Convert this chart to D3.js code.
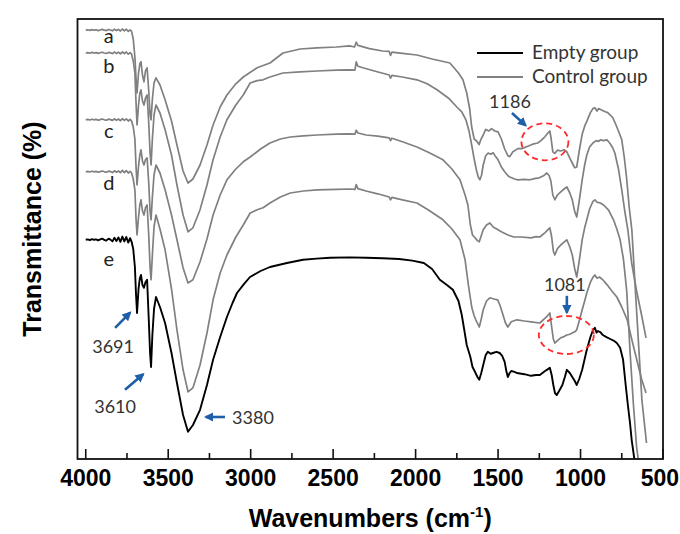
<!DOCTYPE html>
<html><head><meta charset="utf-8">
<script src="https://cdn.jsdelivr.net/npm/d3@7"></script>
<style>
html,body{margin:0;padding:0;background:#fff;}
svg{display:block;}
</style></head><body>
<svg id="chart" width="680" height="534"></svg>
<script>
// FTIR spectra: [wavenumber (cm-1), transmittance (offset, arbitrary %)]
const curveA = [[4000,107.2],[3988,107.3],[3975,107.15],[3962,107.35],[3950,107.2],[3937,107.3],[3925,107.1],[3912,107.25],[3900,107.4],[3887,107.2],[3875,107.1],[3862,107.35],[3850,107.25],[3838,107.05],[3826,107.45],[3814,107.1],[3802,107.4],[3790,107.0],[3778,107.5],[3766,107.05],[3754,107.45],[3742,106.9],[3731,107.3],[3722,106.9],[3712,105.0],[3702,100.5],[3695,95.0],[3689,91.5],[3680,96.5],[3672,98.8],[3665,99.3],[3656,96.0],[3647,94.3],[3638,97.0],[3628,97.8],[3618,92.0],[3610,86.0],[3604,84.8],[3596,90.0],[3586,94.0],[3574,95.3],[3550,93.5],[3519,89.8],[3480,84.5],[3447,78.5],[3410,72.0],[3380,69.0],[3350,70.0],[3307,73.5],[3265,78.5],[3228,83.5],[3185,88.0],[3144,91.0],[3090,93.8],[3045,95.5],[2961,97.8],[2883,99.0],[2804,101.5],[2700,102.5],[2598,102.8],[2480,103.0],[2400,103.3],[2370,103.0],[2360,104.2],[2350,103.4],[2280,102.6],[2200,102.0],[2160,101.9],[2152,100.9],[2144,101.7],[2080,101.4],[1992,101.0],[1900,100.0],[1792,99.0],[1740,96.5],[1713,94.8],[1690,91.5],[1672,87.5],[1660,83.0],[1645,80.0],[1630,79.5],[1615,78.6],[1605,79.8],[1590,81.0],[1575,82.4],[1555,82.0],[1540,82.6],[1520,82.0],[1500,81.8],[1480,80.0],[1460,77.5],[1440,75.8],[1429,75.6],[1410,76.8],[1380,77.6],[1356,77.6],[1320,78.2],[1290,78.7],[1260,79.0],[1240,79.6],[1215,80.6],[1200,81.4],[1186,82.0],[1178,80.0],[1168,76.8],[1156,76.4],[1140,77.2],[1120,77.0],[1100,77.3],[1083,76.8],[1065,75.2],[1050,74.0],[1035,72.8],[1023,73.0],[1008,77.0],[990,81.2],[975,83.2],[962,84.4],[940,86.6],[925,87.6],[913,87.8],[900,87.0],[890,87.6],[870,87.2],[850,86.8],[835,86.6],[815,85.8],[804,85.3],[790,84.0],[770,82.0],[750,79.8],[735,75.5],[720,70.0],[705,63.0],[689,57.3],[670,44.0],[650,30.0],[628,14.8],[600,4.0]];
const curveB = [[4000,101.5],[3988,101.6],[3975,101.45],[3962,101.65],[3950,101.5],[3937,101.6],[3925,101.4],[3912,101.55],[3900,101.7],[3887,101.5],[3875,101.4],[3862,101.65],[3850,101.55],[3838,101.35],[3826,101.75],[3814,101.4],[3802,101.7],[3790,101.3],[3778,101.8],[3766,101.35],[3754,101.75],[3742,101.2],[3731,101.6],[3722,101.2],[3712,99.5],[3702,96.5],[3695,89.0],[3689,83.5],[3680,88.5],[3672,91.5],[3665,92.3],[3656,89.5],[3647,88.5],[3638,90.2],[3628,91.0],[3618,84.0],[3610,76.5],[3604,73.5],[3596,80.0],[3586,86.0],[3574,88.5],[3550,86.5],[3519,82.3],[3480,76.0],[3447,68.5],[3410,61.0],[3380,56.8],[3350,57.8],[3307,62.3],[3265,68.5],[3228,74.8],[3185,80.5],[3144,84.8],[3090,88.5],[3045,91.0],[3003,94.0],[2961,94.6],[2925,94.8],[2883,95.5],[2804,96.5],[2700,96.8],[2598,97.0],[2480,97.2],[2400,97.3],[2368,97.2],[2360,99.3],[2350,98.2],[2320,97.8],[2250,97.0],[2160,96.0],[2152,95.2],[2144,95.9],[2080,95.5],[1992,94.8],[1930,93.8],[1870,92.3],[1800,90.2],[1750,88.0],[1720,86.8],[1695,84.8],[1675,81.8],[1660,78.5],[1645,75.0],[1630,72.0],[1620,70.5],[1610,69.8],[1600,71.0],[1590,73.5],[1575,75.8],[1560,76.5],[1545,76.2],[1530,76.6],[1515,75.6],[1500,74.8],[1480,73.0],[1460,71.8],[1440,70.8],[1429,70.5],[1400,70.0],[1380,69.8],[1340,69.9],[1307,69.8],[1280,70.1],[1250,70.3],[1225,70.8],[1204,71.5],[1190,70.8],[1180,69.5],[1168,66.0],[1156,64.8],[1140,66.0],[1120,66.8],[1100,67.5],[1083,68.0],[1065,66.5],[1050,64.8],[1035,61.8],[1023,60.5],[1008,64.5],[990,69.8],[975,73.5],[962,76.0],[945,78.0],[925,79.0],[905,79.6],[890,79.4],[880,79.8],[860,79.6],[840,79.8],[820,78.8],[805,77.8],[792,76.5],[770,72.5],[750,67.3],[732,62.0],[713,57.3],[690,49.0],[660,42.0],[630,36.0],[603,30.3]];
const curveC = [[4000,84.8],[3988,84.9],[3975,84.75],[3962,84.95],[3950,84.8],[3937,84.9],[3925,84.7],[3912,84.85],[3900,85.0],[3887,84.8],[3875,84.7],[3862,84.95],[3850,84.85],[3838,84.65],[3826,85.05],[3814,84.7],[3802,85.0],[3790,84.6],[3778,85.1],[3766,84.65],[3754,85.05],[3742,84.5],[3731,84.9],[3722,84.5],[3712,83.0],[3702,80.0],[3695,73.0],[3689,68.5],[3680,73.2],[3672,76.0],[3665,77.3],[3656,74.5],[3647,73.5],[3638,74.8],[3628,75.3],[3618,69.0],[3610,62.0],[3604,59.8],[3596,65.5],[3586,71.0],[3574,73.5],[3550,71.5],[3519,67.3],[3480,61.0],[3447,54.8],[3410,47.8],[3380,44.0],[3350,44.8],[3307,49.3],[3265,55.0],[3228,61.0],[3185,66.0],[3144,69.8],[3090,72.5],[3045,74.3],[3003,75.5],[2940,77.5],[2883,79.0],[2820,80.0],[2760,80.5],[2680,80.8],[2598,81.0],[2480,81.2],[2400,81.3],[2368,81.2],[2360,82.2],[2350,81.5],[2300,81.0],[2230,80.7],[2160,80.3],[2152,79.6],[2144,80.2],[2080,79.3],[1992,78.0],[1920,76.6],[1834,74.8],[1780,72.5],[1731,69.8],[1700,66.0],[1683,63.5],[1668,58.5],[1655,56.0],[1640,55.3],[1625,54.6],[1614,54.3],[1602,55.8],[1590,57.3],[1570,58.5],[1550,59.0],[1530,58.0],[1500,57.3],[1480,56.8],[1465,56.5],[1440,56.0],[1404,55.5],[1360,55.5],[1300,55.3],[1270,55.6],[1247,55.5],[1215,56.6],[1200,57.2],[1186,57.8],[1175,55.5],[1165,52.0],[1156,51.0],[1140,52.6],[1120,53.5],[1100,54.2],[1083,54.8],[1065,53.0],[1050,51.0],[1035,47.5],[1023,45.5],[1008,49.5],[990,54.8],[975,57.8],[962,59.8],[945,62.5],[925,64.4],[913,64.8],[900,64.2],[880,64.0],[860,63.5],[830,62.2],[800,59.8],[780,57.5],[760,54.8],[740,50.0],[720,42.0],[700,27.0],[680,14.0],[660,3.0],[644,-2.0],[620,-10.0]];
const curveD = [[4000,71.8],[3988,71.9],[3975,71.75],[3962,71.95],[3950,71.8],[3937,71.9],[3925,71.7],[3912,71.85],[3900,72.0],[3887,71.8],[3875,71.7],[3862,71.95],[3850,71.85],[3838,71.6],[3826,72.05],[3814,71.7],[3802,72.0],[3790,71.6],[3778,72.15],[3766,71.6],[3754,72.1],[3742,71.5],[3731,71.9],[3722,71.5],[3712,70.0],[3702,67.3],[3695,60.0],[3689,56.0],[3680,60.5],[3672,63.5],[3665,64.8],[3656,62.0],[3647,61.0],[3638,62.8],[3628,63.5],[3618,56.0],[3610,48.0],[3604,44.8],[3596,51.0],[3586,58.0],[3574,61.0],[3550,57.5],[3519,52.3],[3480,42.5],[3447,32.3],[3410,22.3],[3380,16.8],[3350,17.8],[3307,23.5],[3265,31.5],[3228,39.8],[3185,46.5],[3144,51.0],[3090,55.5],[3045,58.5],[3003,61.5],[2961,62.3],[2925,62.8],[2883,64.0],[2820,65.5],[2760,66.5],[2680,67.0],[2598,67.3],[2480,67.4],[2400,67.5],[2368,67.4],[2360,68.6],[2350,67.6],[2300,67.0],[2230,66.3],[2160,65.5],[2152,64.8],[2144,65.4],[2080,64.8],[1992,64.0],[1920,62.2],[1834,59.8],[1780,57.5],[1731,54.8],[1700,49.8],[1680,43.5],[1659,37.8],[1645,35.8],[1635,34.8],[1614,33.0],[1602,35.0],[1590,37.3],[1570,39.5],[1550,40.3],[1525,40.0],[1502,39.8],[1485,38.0],[1470,36.0],[1455,34.0],[1441,33.0],[1420,34.3],[1386,34.8],[1340,34.5],[1300,34.3],[1247,34.0],[1215,35.2],[1200,35.8],[1186,36.5],[1175,33.0],[1165,30.0],[1156,29.0],[1140,29.6],[1120,30.3],[1100,30.6],[1083,31.0],[1065,31.2],[1050,31.5],[1035,31.8],[1023,32.3],[1008,34.5],[990,37.3],[975,39.5],[962,41.5],[940,44.2],[925,45.4],[913,46.0],[900,45.2],[885,45.5],[865,44.8],[840,43.6],[810,42.0],[780,40.5],[750,38.0],[717,34.8],[690,30.0],[659,24.8],[630,20.0],[603,16.5]];
const curveE = [[4000,54.8],[3988,54.9],[3975,54.7],[3962,54.95],[3950,54.8],[3937,54.9],[3925,54.65],[3912,54.9],[3900,55.1],[3887,54.75],[3875,54.6],[3862,55.1],[3850,54.85],[3838,54.4],[3826,55.3],[3814,54.5],[3802,55.4],[3790,54.3],[3778,55.6],[3766,54.4],[3754,55.5],[3742,54.1],[3731,55.2],[3722,54.3],[3712,52.5],[3702,48.0],[3695,41.0],[3689,36.5],[3680,42.5],[3672,45.2],[3665,46.0],[3656,43.5],[3647,42.8],[3638,44.2],[3628,44.8],[3618,35.0],[3610,26.5],[3604,23.0],[3596,31.0],[3586,37.5],[3574,40.5],[3550,38.0],[3519,34.0],[3480,26.5],[3447,19.0],[3410,11.0],[3380,6.8],[3350,8.5],[3307,12.3],[3265,18.5],[3228,24.8],[3185,30.5],[3144,35.5],[3110,39.0],[3083,41.5],[3040,43.8],[3004,45.5],[2940,47.0],[2883,48.0],[2780,49.0],[2683,49.8],[2600,50.1],[2519,50.3],[2400,50.4],[2300,50.3],[2200,50.2],[2100,50.0],[2020,49.6],[1950,49.0],[1900,47.5],[1853,44.8],[1810,43.5],[1774,42.3],[1740,39.5],[1720,36.0],[1705,32.3],[1690,28.5],[1668,25.5],[1655,23.0],[1640,21.8],[1625,20.5],[1614,19.8],[1602,21.5],[1590,23.5],[1575,26.0],[1562,26.8],[1545,26.3],[1532,26.5],[1510,26.8],[1490,26.5],[1475,25.8],[1460,24.3],[1450,22.0],[1441,20.5],[1430,21.5],[1420,22.0],[1400,21.8],[1386,21.5],[1340,21.2],[1300,20.8],[1270,21.0],[1247,21.0],[1215,22.0],[1200,22.4],[1186,22.8],[1175,21.0],[1165,18.5],[1155,16.5],[1144,16.0],[1130,17.0],[1110,18.5],[1095,20.5],[1083,22.3],[1065,21.5],[1050,20.5],[1035,19.5],[1023,18.5],[1008,20.0],[990,22.3],[975,25.0],[962,27.3],[940,30.5],[925,32.2],[913,32.8],[903,31.6],[895,32.0],[880,31.7],[865,31.0],[840,30.4],[820,30.0],[800,29.6],[780,29.0],[760,27.8],[742,24.8],[725,18.0],[713,13.5],[700,9.0],[690,4.8],[671,-0.8],[640,-10.0]];

const sampleLabels = ["a", "b", "c", "d", "e"];
const sampleGroups = ["Control group", "Control group", "Control group", "Control group", "Empty group"];
const sampleCurves = [curveA, curveB, curveC, curveD, curveE];
// label anchor points [wavenumber, transmittance]
const sampleLabelPos = [[3860, 104.0], [3860, 96.5], [3860, 80.3], [3860, 67.3], [3860, 48.3]];

const xTickValues = [4000, 3500, 3000, 2500, 2000, 1500, 1000, 500];
const xMinorTickValues = [3750, 3250, 2750, 2250, 1750, 1250, 750];
const legendGroups = ["Empty group", "Control group"];

// peak callouts: text position, arrow tail and head (all in data units)
const peakNotes = [
  { text: "3691", at: [3834, 28.0], from: [3822, 32.8], to: [3731, 36.6] },
  { text: "3610", at: [3822, 13.0], from: [3762, 17.3], to: [3652, 21.2] },
  { text: "3380", at: [2986, 10.3], from: [3156, 10.5], to: [3273, 10.5] },
  { text: "1186", at: [1428, 89.3], from: [1416, 86.5], to: [1333, 83.4] },
  { text: "1081", at: [1095, 43.5], from: [1083, 40.8], to: [1083, 36.6] }
];
// dashed rings around the changed bands: centre in data units
const rings = [
  { centre: [1216, 79.3], rx: 23.5, ry: 18.5 },
  { centre: [1086, 31.0], rx: 27.5, ry: 19 }
];

const W = 680, H = 534;
const frame = { left: 77.5, right: 663, top: 19, bottom: 459 };
const colors = { "Empty group": "#000000", "Control group": "#808080" };
const noteBlue = "#1f5ea8";

const svg = d3.select("#chart");
svg.append("rect").attr("width", W).attr("height", H).attr("fill", "#ffffff");

const x = d3.scaleLinear().domain([4050, 500]).range([frame.left, frame.right]);
const y = d3.scaleLinear().domain([0, 110]).range([frame.bottom, frame.top]);

svg.append("defs").append("clipPath").attr("id", "plotclip")
  .append("rect").attr("x", frame.left).attr("y", frame.top)
  .attr("width", frame.right - frame.left).attr("height", frame.bottom - frame.top);

const line = d3.line().x(d => x(d[0])).y(d => y(d[1]));

const plot = svg.append("g").attr("clip-path", "url(#plotclip)");
sampleCurves.forEach((c, i) => {
  const grp = sampleGroups[i];
  plot.append("path").datum(c)
    .attr("d", line)
    .attr("fill", "none")
    .attr("stroke", colors[grp])
    .attr("stroke-width", grp === "Empty group" ? 1.9 : 1.7)
    .attr("stroke-linejoin", "round");
});

// sample letters
svg.append("g").selectAll("text").data(sampleLabels).join("text")
  .attr("x", (d, i) => x(sampleLabelPos[i][0]))
  .attr("y", (d, i) => y(sampleLabelPos[i][1]))
  .attr("text-anchor", "middle")
  .attr("font-family", "Lato, 'Open Sans', sans-serif")
  .attr("font-size", 20)
  .attr("fill", "#222")
  .text(d => d);

// arrow marker
svg.select("defs").append("marker")
  .attr("id", "arrowhead").attr("viewBox", "0 0 10 10")
  .attr("refX", 8).attr("refY", 5)
  .attr("markerWidth", 3.6).attr("markerHeight", 3.6)
  .attr("orient", "auto")
  .append("path").attr("d", "M0,0 L10,5 L0,10 Z").attr("fill", noteBlue);

const notes = svg.append("g");
peakNotes.forEach(n => {
  notes.append("line")
    .attr("x1", x(n.from[0])).attr("y1", y(n.from[1]))
    .attr("x2", x(n.to[0])).attr("y2", y(n.to[1]))
    .attr("stroke", noteBlue).attr("stroke-width", 2.6)
    .attr("marker-end", "url(#arrowhead)");
  notes.append("text")
    .attr("x", x(n.at[0])).attr("y", y(n.at[1]))
    .attr("dy", "0.36em")
    .attr("text-anchor", "middle")
    .attr("font-family", "Lato, 'Open Sans', sans-serif")
    .attr("font-size", 18)
    .attr("fill", "#333")
    .text(n.text);
});
rings.forEach(r => {
  notes.append("ellipse")
    .attr("cx", x(r.centre[0])).attr("cy", y(r.centre[1]))
    .attr("rx", r.rx).attr("ry", r.ry)
    .attr("fill", "none").attr("stroke", "#ff2a2a")
    .attr("stroke-width", 1.8).attr("stroke-dasharray", "6,4");
});

// legend
const legend = svg.append("g").attr("transform", "translate(477,53)");
legendGroups.forEach((g, i) => {
  legend.append("line").attr("x1", 0).attr("x2", 46)
    .attr("y1", i * 24).attr("y2", i * 24)
    .attr("stroke", colors[g]).attr("stroke-width", 2);
  legend.append("text").attr("x", 55).attr("y", i * 24 + 6)
    .attr("font-family", "Lato, 'Open Sans', sans-serif")
    .attr("font-size", 19).attr("fill", "#333")
    .text(g);
});

// frame
svg.append("rect")
  .attr("x", frame.left).attr("y", frame.top)
  .attr("width", frame.right - frame.left).attr("height", frame.bottom - frame.top)
  .attr("fill", "none").attr("stroke", "#111").attr("stroke-width", 1.8);

// bottom axis with inward ticks
const axisG = svg.append("g").attr("transform", `translate(0,${frame.bottom})`);
axisG.selectAll("line.major").data(xTickValues).join("line")
  .attr("class", "major")
  .attr("x1", d => x(d)).attr("x2", d => x(d))
  .attr("y1", 0).attr("y2", -10)
  .attr("stroke", "#111").attr("stroke-width", 1.6);
axisG.selectAll("line.minor").data(xMinorTickValues).join("line")
  .attr("class", "minor")
  .attr("x1", d => x(d)).attr("x2", d => x(d))
  .attr("y1", 0).attr("y2", -6)
  .attr("stroke", "#111").attr("stroke-width", 1.6);
axisG.selectAll("text").data(xTickValues).join("text")
  .attr("x", d => x(d)).attr("y", 27)
  .attr("text-anchor", "middle")
  .attr("font-family", "'Liberation Sans', Arial, sans-serif")
  .attr("font-weight", "bold").attr("font-size", 23)
  .attr("fill", "#000")
  .text(d => d)
  .each(function () {
    // keep the last label inside the page edge
    const half = this.getComputedTextLength() / 2;
    const cx = +this.getAttribute("x");
    if (cx + half > W - 1) this.setAttribute("x", W - 1 - half);
  });

// axis titles
const xt = svg.append("text")
  .attr("x", (frame.left + frame.right) / 2).attr("y", 527)
  .attr("text-anchor", "middle")
  .attr("font-family", "'Liberation Sans', Arial, sans-serif")
  .attr("font-weight", "bold").attr("font-size", 25).attr("fill", "#000");
xt.append("tspan").text("Wavenumbers (cm");
xt.append("tspan").attr("font-size", 15).attr("dy", -10).text("-1");
xt.append("tspan").attr("dy", 10).text(")");

svg.append("text")
  .attr("transform", "translate(41,229) rotate(-90)")
  .attr("text-anchor", "middle")
  .attr("font-family", "'Liberation Sans', Arial, sans-serif")
  .attr("font-weight", "bold").attr("font-size", 25).attr("fill", "#000")
  .text("Transmittance (%)");
</script>
</body></html>
